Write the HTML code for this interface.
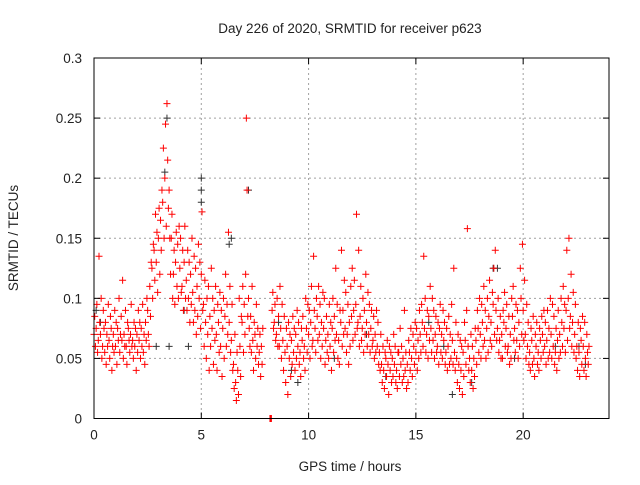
<!DOCTYPE html>
<html><head><meta charset="utf-8"><style>
html,body{margin:0;padding:0;background:#fff}
svg text{font-family:"Liberation Sans",sans-serif;fill:#222}
</style></head><body>
<svg id="chart" width="640" height="480" viewBox="0 0 640 480" xmlns="http://www.w3.org/2000/svg">
<rect width="640" height="480" fill="#fff"/>
<text x="350" y="33" font-size="13.5" text-anchor="middle">Day 226 of 2020, SRMTID for receiver p623</text>
<text transform="translate(18,238) rotate(-90)" font-size="13.5" text-anchor="middle">SRMTID / TECUs</text>
<text x="350" y="471" font-size="13.5" text-anchor="middle">GPS time / hours</text>
<g id="grid"></g>
<g id="black"></g>
<g id="red"></g>
<rect x="94" y="58" width="515" height="360.5" fill="none" stroke="#000" stroke-width="1"/>
<g id="ticks"></g>
</svg>
<script>
const xTicks=[0,5,10,15,20];
const yTicks=[0,0.05,0.1,0.15,0.2,0.25,0.3];
const yTickLabels=["0","0.05","0.1","0.15","0.2","0.25","0.3"];
const binStart=0, binStep=0.1;
// red series: 3 samples per 0.1h bin, thousandths of TECU (null = no data)
const redVals=[70,85,60,75,95,55,65,135,80,70,100,50,60,90,75,55,80,45,70,60,95,65,50,85,75,40,60,70,55,90,
60,80,45,75,65,100,55,70,85,65,115,50,70,60,90,60,45,80,75,65,55,70,95,60,65,50,80,60,75,40,
70,55,90,65,80,50,75,60,95,55,70,45,80,65,100,90,70,60,110,85,130,125,100,145,140,115,170,130,155,105,
150,175,120,165,140,190,180,225,150,200,245,160,262,215,175,190,150,120,150,170,100,120,140,95,130,155,110,145,100,160,
125,150,105,110,140,90,130,160,100,115,90,140,100,130,80,120,95,150,105,80,135,90,125,70,110,85,145,100,130,75,
120,172,90,95,60,115,80,50,100,70,110,40,85,60,125,75,100,45,90,65,110,70,40,95,80,55,105,60,90,35,
75,100,50,85,120,60,95,70,155,80,110,55,65,95,40,45,25,70,30,15,55,40,20,100,60,35,85,80,110,55,
95,70,120,250,190,85,100,75,60,85,55,110,65,40,80,70,50,95,60,75,45,55,70,35,60,45,75,null,null,null,
null,null,null,null,null,null,0,0,0,90,105,75,80,95,65,70,100,60,85,60,110,75,50,95,65,40,85,55,30,75,
60,20,80,50,70,35,65,45,85,55,75,40,70,50,90,60,80,45,55,35,75,65,85,50,60,40,100,75,55,95,
70,90,50,80,110,60,65,135,90,75,55,100,85,65,110,70,95,50,80,60,105,75,100,45,65,85,55,70,50,95,
60,80,40,75,100,55,85,65,125,70,95,50,65,45,90,80,140,60,90,70,115,75,105,55,70,95,45,80,60,110,
85,125,65,90,115,70,95,170,75,80,140,60,85,110,65,75,100,55,90,70,120,80,60,105,70,95,55,75,90,60,
65,85,50,70,55,90,60,80,45,55,40,70,45,30,60,40,25,55,50,35,65,45,20,60,40,55,30,50,35,70,
45,60,30,40,25,55,55,35,75,45,60,30,50,35,90,40,55,25,45,30,65,55,40,75,50,35,70,60,45,80,
55,75,40,65,50,90,70,55,95,80,60,135,75,100,55,70,90,50,85,65,110,75,55,100,65,90,50,70,85,55,
60,80,45,75,95,55,70,50,90,65,80,45,55,75,40,60,85,45,70,50,95,65,45,125,55,40,80,50,30,70,
45,25,65,40,60,20,55,35,80,65,45,90,158,60,40,50,30,70,40,60,25,50,35,75,65,45,90,75,55,100,
70,50,95,80,60,110,65,90,50,75,100,55,85,115,65,80,60,105,95,125,70,140,90,65,75,100,55,65,85,50,
70,50,90,80,105,60,75,95,55,60,85,45,70,50,100,85,110,65,75,55,95,65,90,50,80,60,125,100,70,145,
90,65,115,70,50,95,60,80,45,55,40,75,65,45,85,50,35,70,60,80,45,55,40,75,65,50,85,70,55,90,
60,80,45,65,90,50,75,55,100,70,50,95,60,85,45,55,75,40,65,90,50,70,55,100,80,60,110,75,95,55,
90,140,65,100,150,75,85,120,60,80,105,55,70,95,50,60,40,80,55,35,75,65,45,85,60,40,80,50,35,70,
55,45,60];
// black series (sparse), hours and TECU
const blackT=[0.1,0.3,2.9,3.3,3.4,3.5,4.2,4.4,5.0,5.0,5.0,6.3,6.4,7.2,8.6,9.2,9.5,11.2,12.7,13.6,15.6,16.3,16.7,17.6,18.6,18.8,19.6,21.5,22.6,22.9];
const blackV=[0.09,0.08,0.06,0.205,0.25,0.06,0.09,0.06,0.19,0.2,0.18,0.145,0.15,0.19,0.08,0.04,0.03,0.05,0.07,0.035,0.08,0.06,0.02,0.03,0.125,0.125,0.05,0.06,0.06,0.045];

const X0=94,X1=609,Y0=418.5,Y1=58,XMAX=24,YMAX=0.3;
const xs=v=>X0+(v/XMAX)*(X1-X0);
const ys=v=>Y0-(v/YMAX)*(Y0-Y1);
const NS="http://www.w3.org/2000/svg";
const mk=(t,a,p)=>{const e=document.createElementNS(NS,t);for(const k in a)e.setAttribute(k,a[k]);p.appendChild(e);return e;};
const grid=document.getElementById('grid'),ticks=document.getElementById('ticks');
xTicks.forEach(t=>{const x=xs(t);
 if(t>0){const g=mk('line',{x1:x,y1:Y1,x2:x,y2:Y0,stroke:'#a0a0a0','stroke-dasharray':'2,3'},grid);
 
 }
 mk('line',{x1:x,y1:Y0,x2:x,y2:Y0-6,stroke:'#000'},ticks);
 mk('line',{x1:x,y1:Y1,x2:x,y2:Y1+6,stroke:'#000'},ticks);
 const l=mk('text',{x:x,y:Y0+21,'font-size':'13.5','text-anchor':'middle'},ticks);l.textContent=t;
 
 });
yTicks.forEach((t,i)=>{const y=ys(t);
 if(i>0&&i<yTicks.length-1){const g=mk('line',{x1:X0,y1:y,x2:X1,y2:y,stroke:'#a0a0a0','stroke-dasharray':'2,3'},grid);
 
 }
 mk('line',{x1:X0,y1:y,x2:X0+6,y2:y,stroke:'#000'},ticks);
 mk('line',{x1:X1,y1:y,x2:X1-6,y2:y,stroke:'#000'},ticks);
 const l=mk('text',{x:X0-12,y:y+5,'font-size':'13.5','text-anchor':'end'},ticks);l.textContent=yTickLabels[i];
 
 });
function plus(x,y,c,p){const px=xs(x),py=ys(y);
 const e=mk('path',{d:`M${px-3.5},${py}h7M${px},${py-3.5}v7`,stroke:c,'stroke-width':1,fill:'none'},p);return e;}
const bg=document.getElementById('black');
blackT.forEach((t,i)=>{const e=plus(t,blackV[i],'#333',bg);
 
 });
const rg=document.getElementById('red');
redVals.forEach((v,i)=>{if(v===null)return;
 const t=binStart+Math.floor(i/3)*binStep+(i%3)*binStep/3;
 const e=plus(t,v/1000,'#ff0000',rg);
 
 });
</script>
</body></html>
